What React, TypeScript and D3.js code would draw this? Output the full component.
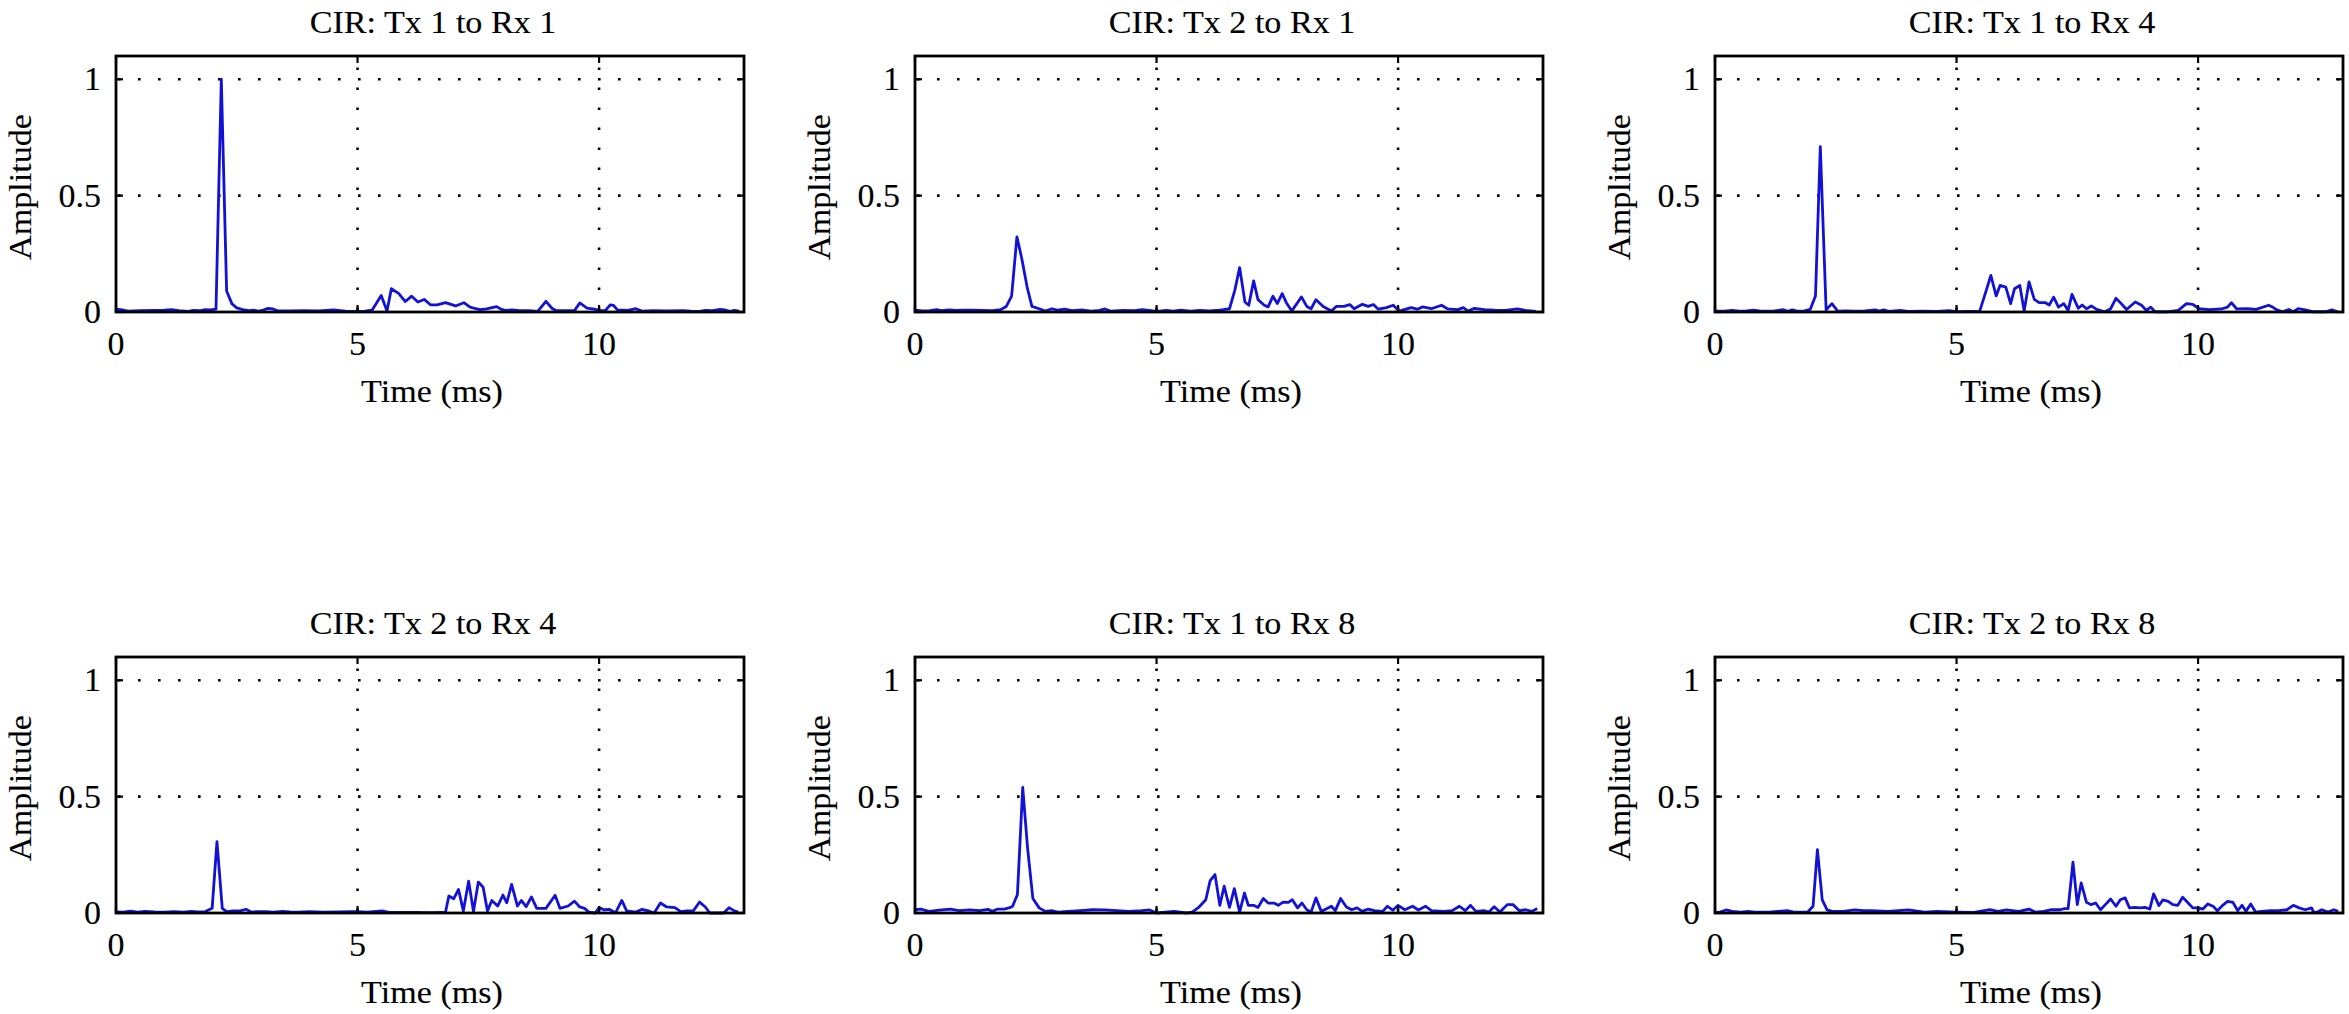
import React from 'react';
import * as d3 from 'd3';

type Pt = [number, number];

const titles: string[] = [
  'CIR: Tx 1 to Rx 1',
  'CIR: Tx 2 to Rx 1',
  'CIR: Tx 1 to Rx 4',
  'CIR: Tx 2 to Rx 4',
  'CIR: Tx 1 to Rx 8',
  'CIR: Tx 2 to Rx 8',
];

const xTicks: number[] = [0, 5, 10];
const yTicks: number[] = [0, 0.5, 1];
const yTickLabels: string[] = ['0', '0.5', '1'];
const xDomain: [number, number] = [0, 13];
const yDomain: [number, number] = [0, 1.1];
const xLabel = 'Time (ms)';
const yLabel = 'Amplitude';

const cirTx1Rx1: Pt[] = [
  [0, 0.012], [0.1, 0.01], [0.25, 0.004], [0.5, 0.006], [0.8, 0.007], [1.0, 0.008], [1.15, 0.01], [1.3, 0.006],
  [1.5, 0.003], [1.6, 0.007], [1.75, 0.006], [1.85, 0.01], [1.95, 0.009], [2.07, 0.012], [2.18, 1.0], [2.29, 0.09],
  [2.4, 0.035], [2.5, 0.018], [2.62, 0.01], [2.75, 0.006], [2.85, 0.008], [2.95, 0.004], [3.05, 0.008], [3.15, 0.016],
  [3.25, 0.013], [3.35, 0.005], [3.6, 0.005], [3.9, 0.006], [4.2, 0.005], [4.5, 0.009], [4.6, 0.007], [4.75, 0.004],
  [5.0, 0.003], [5.15, 0.004], [5.3, 0.008], [5.49, 0.071], [5.61, 0.004], [5.7, 0.1], [5.85, 0.08], [5.99, 0.045],
  [6.12, 0.068], [6.25, 0.043], [6.38, 0.054], [6.51, 0.031], [6.65, 0.031], [6.82, 0.04], [7.03, 0.026], [7.2, 0.04],
  [7.33, 0.021], [7.45, 0.014], [7.54, 0.01], [7.67, 0.013], [7.88, 0.023], [7.97, 0.012], [8.05, 0.007], [8.2, 0.009],
  [8.35, 0.006], [8.55, 0.006], [8.73, 0.003], [8.9, 0.046], [9.03, 0.015], [9.11, 0.006], [9.3, 0.006], [9.49, 0.006],
  [9.6, 0.039], [9.75, 0.017], [9.9, 0.012], [10.0, 0.007], [10.13, 0.006], [10.23, 0.031], [10.3, 0.028], [10.38, 0.009],
  [10.6, 0.007], [10.76, 0.014], [10.89, 0.004], [11.1, 0.006], [11.4, 0.005], [11.74, 0.006], [11.9, 0.004], [12.08, 0.003],
  [12.2, 0.007], [12.35, 0.006], [12.5, 0.011], [12.6, 0.009], [12.71, 0.003], [12.8, 0.007], [12.9, 0.004],
];

const cirTx2Rx1: Pt[] = [
  [0, 0.008], [0.15, 0.005], [0.3, 0.006], [0.45, 0.01], [0.55, 0.006], [0.7, 0.009], [0.85, 0.007], [1.0, 0.008],
  [1.2, 0.008], [1.4, 0.007], [1.6, 0.006], [1.77, 0.01], [1.89, 0.024], [2.0, 0.068], [2.11, 0.323], [2.21, 0.23],
  [2.32, 0.108], [2.42, 0.024], [2.57, 0.014], [2.7, 0.004], [2.83, 0.014], [2.95, 0.008], [3.1, 0.012], [3.25, 0.006],
  [3.45, 0.009], [3.65, 0.004], [3.82, 0.007], [3.93, 0.013], [4.05, 0.004], [4.3, 0.007], [4.55, 0.006], [4.7, 0.01],
  [4.85, 0.007], [5.0, 0.003], [5.2, 0.007], [5.35, 0.004], [5.5, 0.008], [5.7, 0.004], [5.9, 0.007], [6.1, 0.005],
  [6.3, 0.008], [6.38, 0.01], [6.51, 0.014], [6.62, 0.093], [6.72, 0.191], [6.83, 0.043], [6.91, 0.029], [7.01, 0.134],
  [7.1, 0.053], [7.23, 0.029], [7.31, 0.022], [7.41, 0.068], [7.5, 0.036], [7.6, 0.079], [7.69, 0.039], [7.8, 0.004],
  [8.0, 0.065], [8.11, 0.024], [8.2, 0.014], [8.3, 0.053], [8.45, 0.024], [8.62, 0.004], [8.72, 0.024], [8.88, 0.024],
  [9.0, 0.032], [9.09, 0.014], [9.26, 0.033], [9.38, 0.024], [9.49, 0.032], [9.59, 0.012], [9.76, 0.019], [9.9, 0.029],
  [10.02, 0.004], [10.27, 0.019], [10.4, 0.012], [10.51, 0.022], [10.69, 0.014], [10.9, 0.029], [11.03, 0.013], [11.24, 0.01],
  [11.35, 0.019], [11.45, 0.004], [11.58, 0.016], [11.79, 0.01], [12.0, 0.008], [12.22, 0.007], [12.47, 0.013], [12.64, 0.007],
  [12.85, 0.003],
];

const cirTx1Rx4: Pt[] = [
  [0, 0.004], [0.2, 0.004], [0.35, 0.007], [0.5, 0.004], [0.65, 0.005], [0.8, 0.008], [0.95, 0.004], [1.2, 0.004],
  [1.42, 0.01], [1.5, 0.003], [1.6, 0.009], [1.7, 0.004], [1.85, 0.005], [1.97, 0.011], [2.08, 0.069], [2.18, 0.71],
  [2.3, 0.009], [2.42, 0.036], [2.54, 0.004], [2.7, 0.005], [2.9, 0.004], [3.1, 0.005], [3.32, 0.009], [3.4, 0.004],
  [3.49, 0.009], [3.6, 0.003], [3.83, 0.007], [4.0, 0.003], [4.3, 0.004], [4.6, 0.003], [4.85, 0.006], [5.0, 0.002],
  [5.2, 0.003], [5.48, 0.004], [5.61, 0.09], [5.71, 0.157], [5.82, 0.069], [5.9, 0.114], [6.02, 0.107], [6.12, 0.036],
  [6.2, 0.1], [6.31, 0.114], [6.4, 0.004], [6.5, 0.129], [6.61, 0.054], [6.71, 0.04], [6.84, 0.04], [6.92, 0.03],
  [7.01, 0.064], [7.11, 0.021], [7.22, 0.036], [7.31, 0.007], [7.39, 0.076], [7.52, 0.016], [7.6, 0.03], [7.69, 0.014],
  [7.79, 0.026], [7.9, 0.011], [8.07, 0.001], [8.19, 0.014], [8.3, 0.059], [8.41, 0.036], [8.52, 0.011], [8.7, 0.043],
  [8.83, 0.029], [8.93, 0.007], [9.02, 0.021], [9.11, 0.001], [9.34, 0.001], [9.59, 0.007], [9.76, 0.036], [9.89, 0.033],
  [10.02, 0.014], [10.23, 0.01], [10.48, 0.013], [10.61, 0.021], [10.69, 0.04], [10.8, 0.013], [11.03, 0.014], [11.2, 0.011],
  [11.46, 0.029], [11.55, 0.02], [11.63, 0.009], [11.75, 0.001], [11.88, 0.011], [11.97, 0.001], [12.07, 0.014], [12.22, 0.009],
  [12.39, 0.001], [12.64, 0.001], [12.77, 0.009], [12.9, 0.0],
];

const cirTx2Rx4: Pt[] = [
  [0, 0.005], [0.15, 0.004], [0.3, 0.008], [0.45, 0.004], [0.6, 0.007], [0.8, 0.005], [1.0, 0.004], [1.2, 0.006],
  [1.4, 0.004], [1.55, 0.007], [1.7, 0.005], [1.85, 0.006], [1.99, 0.02], [2.09, 0.307], [2.2, 0.02], [2.29, 0.006],
  [2.42, 0.009], [2.57, 0.009], [2.69, 0.016], [2.8, 0.004], [2.92, 0.006], [3.1, 0.006], [3.26, 0.004], [3.45, 0.007],
  [3.6, 0.005], [3.77, 0.004], [4.0, 0.006], [4.3, 0.004], [4.6, 0.005], [4.85, 0.006], [5.0, 0.006], [5.2, 0.004],
  [5.51, 0.009], [5.65, 0.003], [5.8, 0.003], [6.2, 0.003], [6.5, 0.002], [6.74, 0.003], [6.82, 0.002], [6.89, 0.073],
  [6.99, 0.061], [7.09, 0.101], [7.19, 0.009], [7.3, 0.137], [7.4, 0.006], [7.5, 0.133], [7.6, 0.111], [7.69, 0.009],
  [7.78, 0.054], [7.9, 0.03], [8.01, 0.077], [8.09, 0.044], [8.19, 0.123], [8.31, 0.03], [8.39, 0.054], [8.49, 0.027],
  [8.6, 0.069], [8.71, 0.02], [8.9, 0.02], [9.09, 0.076], [9.19, 0.02], [9.36, 0.03], [9.49, 0.051], [9.6, 0.026],
  [9.7, 0.02], [9.79, 0.004], [9.92, 0.0], [10.0, 0.023], [10.1, 0.014], [10.21, 0.016], [10.34, 0.001], [10.47, 0.054],
  [10.57, 0.009], [10.76, 0.004], [10.89, 0.016], [11.02, 0.009], [11.14, 0.0], [11.27, 0.043], [11.4, 0.026], [11.57, 0.023],
  [11.69, 0.006], [11.82, 0.009], [11.95, 0.009], [12.08, 0.047], [12.2, 0.026], [12.29, 0.0], [12.58, 0.0], [12.69, 0.023],
  [12.8, 0.009], [12.88, 0.004],
];

const cirTx1Rx8: Pt[] = [
  [0, 0.014], [0.12, 0.017], [0.29, 0.007], [0.5, 0.012], [0.73, 0.017], [0.92, 0.01], [1.13, 0.013], [1.34, 0.01],
  [1.51, 0.016], [1.6, 0.007], [1.71, 0.017], [1.85, 0.017], [1.98, 0.024], [2.02, 0.029], [2.12, 0.079], [2.23, 0.54],
  [2.33, 0.28], [2.44, 0.062], [2.57, 0.022], [2.7, 0.007], [2.83, 0.01], [2.96, 0.004], [3.16, 0.007], [3.42, 0.01],
  [3.67, 0.014], [3.93, 0.013], [4.18, 0.01], [4.43, 0.007], [4.69, 0.01], [4.86, 0.013], [5.0, 0.0], [5.36, 0.007],
  [5.62, 0.0], [5.74, 0.004], [5.87, 0.024], [6.02, 0.057], [6.11, 0.139], [6.21, 0.165], [6.31, 0.033], [6.4, 0.115],
  [6.51, 0.024], [6.61, 0.105], [6.72, 0.004], [6.82, 0.086], [6.9, 0.033], [7.01, 0.033], [7.1, 0.024], [7.21, 0.062],
  [7.31, 0.043], [7.44, 0.042], [7.52, 0.033], [7.62, 0.047], [7.73, 0.046], [7.81, 0.057], [7.92, 0.022], [8.01, 0.043],
  [8.11, 0.014], [8.2, 0.004], [8.3, 0.065], [8.41, 0.007], [8.53, 0.019], [8.62, 0.029], [8.7, 0.01], [8.81, 0.062],
  [8.93, 0.026], [9.04, 0.014], [9.15, 0.022], [9.26, 0.007], [9.38, 0.017], [9.51, 0.01], [9.68, 0.007], [9.78, 0.029],
  [9.89, 0.012], [10.0, 0.033], [10.14, 0.014], [10.3, 0.029], [10.42, 0.013], [10.57, 0.029], [10.69, 0.01], [10.95, 0.007],
  [11.12, 0.01], [11.27, 0.029], [11.39, 0.01], [11.5, 0.033], [11.61, 0.007], [11.78, 0.01], [11.88, 0.004], [11.99, 0.027],
  [12.11, 0.004], [12.26, 0.036], [12.38, 0.036], [12.51, 0.01], [12.64, 0.014], [12.77, 0.007], [12.88, 0.019],
];

const cirTx2Rx8: Pt[] = [
  [0, 0.003], [0.1, 0.004], [0.23, 0.013], [0.36, 0.007], [0.53, 0.004], [0.69, 0.007], [0.82, 0.004], [1.12, 0.004],
  [1.5, 0.01], [1.63, 0.004], [1.92, 0.004], [2.03, 0.029], [2.12, 0.272], [2.22, 0.056], [2.32, 0.013], [2.43, 0.007],
  [2.64, 0.007], [2.9, 0.013], [3.07, 0.01], [3.24, 0.01], [3.58, 0.007], [4.0, 0.013], [4.34, 0.004], [4.59, 0.007],
  [5.0, 0.004], [5.36, 0.003], [5.69, 0.014], [5.86, 0.007], [6.03, 0.013], [6.29, 0.007], [6.5, 0.017], [6.63, 0.004],
  [6.8, 0.007], [6.97, 0.014], [7.14, 0.014], [7.24, 0.019], [7.31, 0.019], [7.41, 0.218], [7.5, 0.036], [7.58, 0.129],
  [7.69, 0.046], [7.78, 0.036], [7.88, 0.043], [7.98, 0.014], [8.08, 0.036], [8.19, 0.06], [8.3, 0.029], [8.39, 0.057],
  [8.49, 0.065], [8.58, 0.022], [8.69, 0.024], [8.79, 0.022], [8.9, 0.024], [9.0, 0.017], [9.08, 0.082], [9.19, 0.032],
  [9.27, 0.056], [9.38, 0.05], [9.48, 0.036], [9.58, 0.033], [9.68, 0.068], [9.78, 0.046], [9.89, 0.022], [10.0, 0.022],
  [10.1, 0.017], [10.2, 0.039], [10.31, 0.029], [10.4, 0.01], [10.51, 0.033], [10.61, 0.05], [10.72, 0.046], [10.82, 0.01],
  [10.91, 0.033], [10.99, 0.007], [11.09, 0.039], [11.19, 0.004], [11.31, 0.007], [11.5, 0.01], [11.67, 0.01], [11.84, 0.014],
  [11.97, 0.033], [12.09, 0.022], [12.22, 0.014], [12.35, 0.022], [12.39, 0.004], [12.47, 0.004], [12.56, 0.014], [12.69, 0.004],
  [12.81, 0.014], [12.9, 0.007],
];

const seriesList: Pt[][] = [cirTx1Rx1, cirTx2Rx1, cirTx1Rx4, cirTx2Rx4, cirTx1Rx8, cirTx2Rx8];

const W = 2349;
const H = 1014;
const colLeft = [116, 915, 1715];
const rowTop = [56, 657];
const PW = 628;
const PH = 256;
const FONT = '"Liberation Serif", "Times New Roman", serif';
const LINE_COLOR = '#1212d6';
const TEXT_SX = 1.1;
const TEXT_SIZE = 31;
const TICK_SIZE = 34;

function Panel({ title, data, left, top }: { title: string; data: Pt[]; left: number; top: number }) {
  const x = d3.scaleLinear().domain(xDomain).range([left, left + PW]);
  const y = d3.scaleLinear().domain(yDomain).range([top + PH, top]);
  const line = d3
    .line<Pt>()
    .x((d) => x(d[0]))
    .y((d) => y(d[1]));
  const bottom = top + PH;
  const right = left + PW;
  const cx = left + PW / 2;
  const tick = 7;
  const textProps = { fontFamily: FONT, fill: '#000', stroke: '#000', strokeWidth: 0.12 };
  return (
    <g>
      {xTicks
        .filter((t) => t > xDomain[0] && t < xDomain[1])
        .map((t) => (
          <line
            key={'gx' + t}
            x1={x(t)}
            x2={x(t)}
            y1={bottom}
            y2={top}
            stroke="#000"
            strokeWidth={2.6}
            strokeDasharray="2.6 17.4"
            strokeDashoffset={-2}
          />
        ))}
      {yTicks
        .filter((t) => t > yDomain[0] && t < yDomain[1])
        .map((t) => (
          <line
            key={'gy' + t}
            x1={left}
            x2={right}
            y1={y(t)}
            y2={y(t)}
            stroke="#000"
            strokeWidth={2.6}
            strokeDasharray="2.6 17.4"
            strokeDashoffset={-2}
          />
        ))}
      <path d={line(data) || ''} fill="none" stroke={LINE_COLOR} strokeWidth={2.8} strokeLinejoin="round" />
      {xTicks.map((t) => (
        <g key={'tx' + t}>
          <line x1={x(t)} x2={x(t)} y1={bottom} y2={bottom - tick} stroke="#000" strokeWidth={2.2} />
          <line x1={x(t)} x2={x(t)} y1={top} y2={top + tick} stroke="#000" strokeWidth={2.2} />
        </g>
      ))}
      {yTicks.map((t) => (
        <g key={'ty' + t}>
          <line x1={left} x2={left + tick} y1={y(t)} y2={y(t)} stroke="#000" strokeWidth={2.2} />
          <line x1={right} x2={right - tick} y1={y(t)} y2={y(t)} stroke="#000" strokeWidth={2.2} />
        </g>
      ))}
      <rect x={left} y={top} width={PW} height={PH} fill="none" stroke="#000" strokeWidth={2.8} />
      {xTicks.map((t) => (
        <text
          key={'lx' + t}
          transform={`translate(${x(t)},${bottom + 43})`}
          textAnchor="middle"
          fontSize={TICK_SIZE}
          {...textProps}
        >
          {String(t)}
        </text>
      ))}
      {yTicks.map((t, i) => (
        <text
          key={'ly' + t}
          transform={`translate(${left - 15},${y(t) + 11})`}
          textAnchor="end"
          fontSize={TICK_SIZE}
          {...textProps}
        >
          {yTickLabels[i]}
        </text>
      ))}
      <text
        transform={`translate(${cx + 3},${top - 23}) scale(${TEXT_SX},1)`}
        textAnchor="middle"
        fontSize={TEXT_SIZE}
        {...textProps}
      >
        {title}
      </text>
      <text
        transform={`translate(${cx + 2},${bottom + 90}) scale(${TEXT_SX},1)`}
        textAnchor="middle"
        fontSize={TEXT_SIZE}
        {...textProps}
      >
        {xLabel}
      </text>
      <text
        transform={`translate(${left - 85},${top + PH / 2 + 3}) rotate(-90) scale(${TEXT_SX},1)`}
        textAnchor="middle"
        fontSize={TEXT_SIZE}
        {...textProps}
      >
        {yLabel}
      </text>
    </g>
  );
}

export default function App() {
  return (
    <svg
      width={W}
      height={H}
      viewBox={`0 0 ${W} ${H}`}
      style={{ position: 'absolute', left: 0, top: 0, display: 'block', background: '#fff' }}
    >
      <rect x={0} y={0} width={W} height={H} fill="#fff" />
      {seriesList.map((data, i) => (
        <Panel
          key={i}
          title={titles[i]}
          data={data}
          left={colLeft[i % 3]}
          top={rowTop[Math.floor(i / 3)]}
        />
      ))}
    </svg>
  );
}
